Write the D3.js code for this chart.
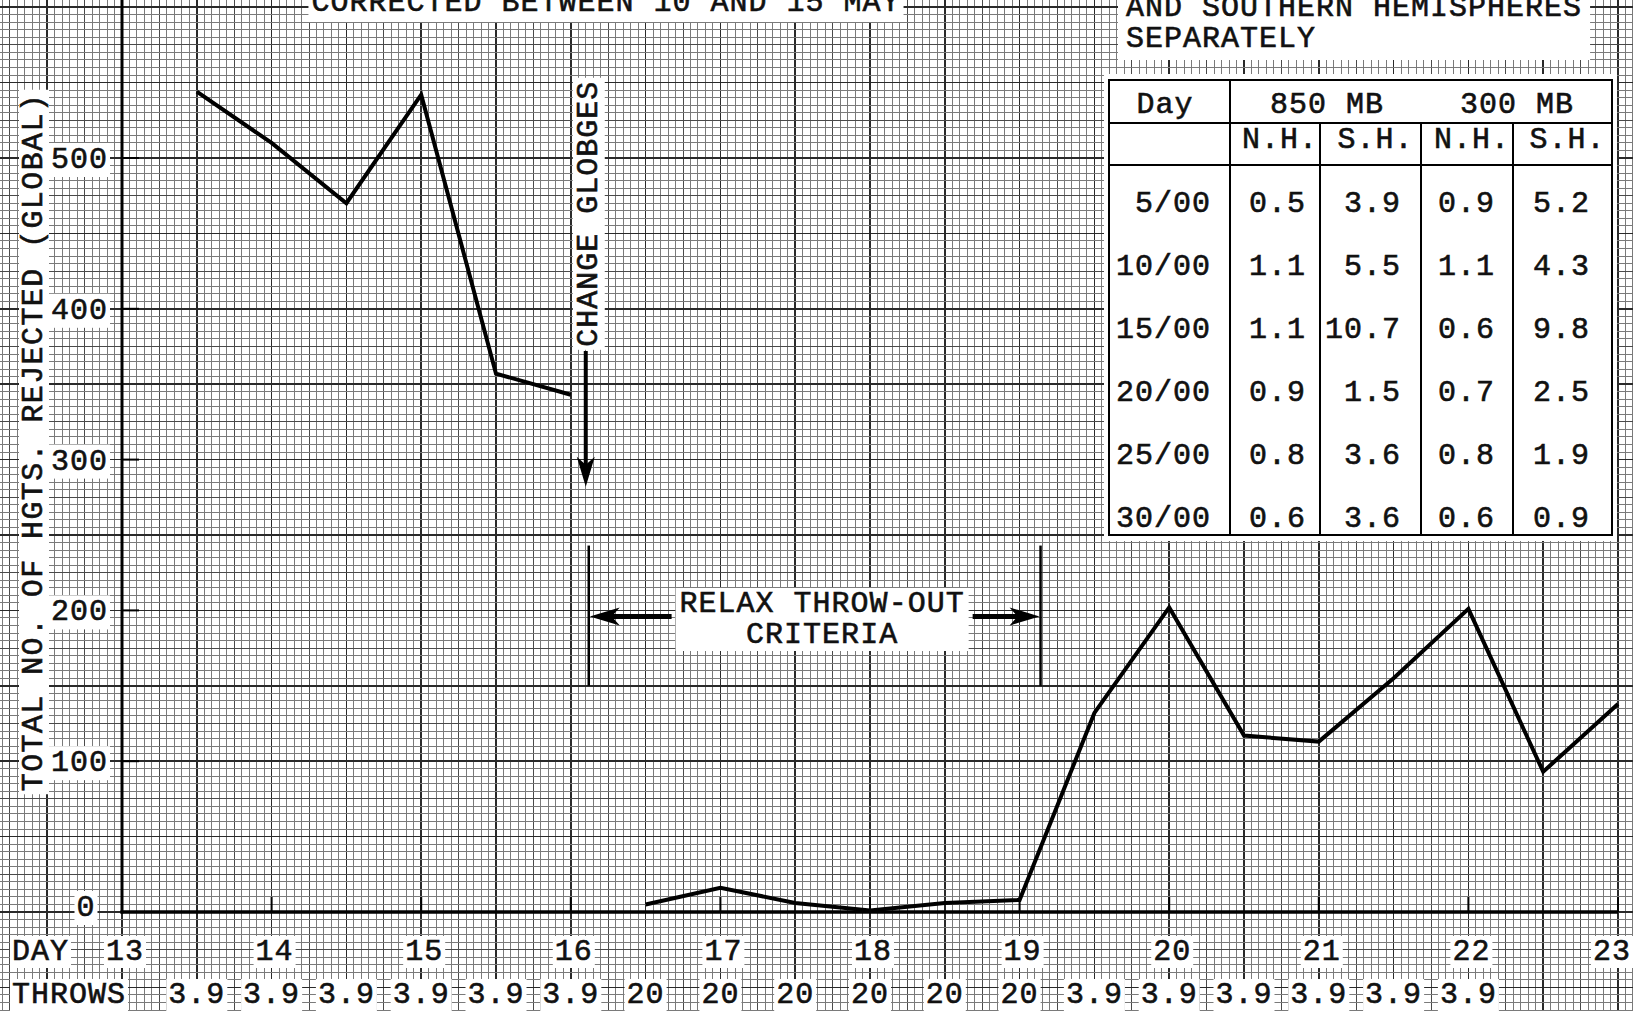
<!DOCTYPE html>
<html>
<head>
<meta charset="utf-8">
<script src="https://cdn.jsdelivr.net/npm/d3@7"></script>
<style>
    body { margin: 0; background: white; }
</style>
</head>
<body>
<div id="canvas"></div>
<script>
"use strict"

/* Drawing size */
let svgWidth = 1633;
let svgHeight = 1011;
let fontFamily = "'Liberation Mono', 'DejaVu Sans Mono', monospace";

let dayTicks = [13, 14, 15, 16, 17, 18, 19, 20, 21, 22, 23];
let yTicks = [0, 100, 200, 300, 400, 500];

// first run of the curve (before the globges change)
let earlyDays = [13.5, 14, 14.5, 15, 15.5, 16];
let earlyRejected = [544, 510, 470, 542, 357, 343];

// second run of the curve
let lateDays = [16.5, 17, 17.5, 18, 18.5, 19, 19.5, 20, 20.5, 21, 21.5, 22, 22.5, 23];
let lateRejected = [5, 16, 6, 1, 6, 8, 132, 202, 117, 113, 155, 201, 93, 138];

// throw-out criteria used for each half day
let throwDays = [13.5, 14, 14.5, 15, 15.5, 16, 16.5, 17, 17.5, 18, 18.5, 19, 19.5, 20, 20.5, 21, 21.5, 22];
let throwValues = ["3.9", "3.9", "3.9", "3.9", "3.9", "3.9", "20", "20", "20", "20", "20", "20",
    "3.9", "3.9", "3.9", "3.9", "3.9", "3.9"];

/* Table: northern and southern hemispheres separately */
let tableDays = ["5/00", "10/00", "15/00", "20/00", "25/00", "30/00"];
let nh850 = ["0.5", "1.1", "1.1", "0.9", "0.8", "0.6"];
let sh850 = ["3.9", "5.5", "10.7", "1.5", "3.6", "3.6"];
let nh300 = ["0.9", "1.1", "0.6", "0.7", "0.8", "0.6"];
let sh300 = ["5.2", "4.3", "9.8", "2.5", "1.9", "0.9"];

let svg = d3.select("#canvas")
    .append("svg")
    .attr("width", svgWidth)
    .attr("height", svgHeight)
    .style("display", "block");

svg.append("rect")
    .attr("width", svgWidth)
    .attr("height", svgHeight)
    .attr("fill", "white");

/* Scales: days on x, number of heights rejected on y */
let xScale = d3.scaleLinear()
    .domain([13, 23])
    .range([122, 1618]);

let yScale = d3.scaleLinear()
    .domain([0, 500])
    .range([912, 158]);

/* graph paper: minor line every 1/20 day and every 5 units, heavy every half day / 50 units */
let grid = svg.append("g").attr("shape-rendering", "crispEdges");

function gridColor(i) {
    if (i % 10 === 0) return "#2a2a2a";
    if (i % 5 === 0) return "#4a4a4a";
    return "#7a7a7a";
}

let xFirst = Math.ceil(xScale.invert(0) / 0.05);
let xLast = Math.floor(xScale.invert(svgWidth) / 0.05);
for (let i = xFirst; i <= xLast; i++) {
    let x = xScale(i * 0.05);
    grid.append("line")
        .attr("x1", x).attr("x2", x)
        .attr("y1", 0).attr("y2", svgHeight)
        .attr("stroke", gridColor(i))
        .attr("stroke-width", i % 10 === 0 ? 1.5 : 1);
}

let yFirst = Math.ceil(yScale.invert(svgHeight) / 5);
let yLast = Math.floor(yScale.invert(0) / 5);
for (let i = yFirst; i <= yLast; i++) {
    let y = yScale(i * 5);
    grid.append("line")
        .attr("x1", 0).attr("x2", svgWidth)
        .attr("y1", y).attr("y2", y)
        .attr("stroke", gridColor(i))
        .attr("stroke-width", i % 10 === 0 ? 1.5 : 1);
}

/* white patch behind a label group, like the pasted-on typed labels */
function whiteBox(group, padX, padY) {
    let b = group.node().getBBox();
    group.insert("rect", ":first-child")
        .attr("x", b.x - padX)
        .attr("y", b.y - padY)
        .attr("width", b.width + 2 * padX)
        .attr("height", b.height + 2 * padY)
        .attr("fill", "white");
}

function typed(parent, x, y, str, anchor) {
    return parent.append("text")
        .attr("x", x)
        .attr("y", y)
        .attr("text-anchor", anchor || "middle")
        .attr("font-family", fontFamily)
        .attr("font-size", 30)
        .attr("letter-spacing", 1)
        .attr("fill", "#111")
        .attr("stroke", "#111")
        .attr("stroke-width", 0.6)
        .text(str);
}

/* axes */
svg.append("line")
    .attr("x1", xScale(13)).attr("x2", xScale(13))
    .attr("y1", 0).attr("y2", yScale(0) + 1.5)
    .attr("stroke", "black").attr("stroke-width", 3);

svg.append("line")
    .attr("x1", xScale(13) - 1.5).attr("x2", xScale(23))
    .attr("y1", yScale(0)).attr("y2", yScale(0))
    .attr("stroke", "black").attr("stroke-width", 3.5);

for (let i = 1; i < dayTicks.length; i++) {
    svg.append("line")
        .attr("x1", xScale(dayTicks[i])).attr("x2", xScale(dayTicks[i]))
        .attr("y1", yScale(0)).attr("y2", yScale(0) - 15)
        .attr("stroke", "black").attr("stroke-width", 2);
}
for (let i = 1; i < yTicks.length; i++) {
    svg.append("line")
        .attr("x1", xScale(13)).attr("x2", xScale(13) + 17)
        .attr("y1", yScale(yTicks[i])).attr("y2", yScale(yTicks[i]))
        .attr("stroke", "black").attr("stroke-width", 2);
}

/* the curve, in two runs */
let line = d3.line()
    .x(function (d) { return xScale(d[0]); })
    .y(function (d) { return yScale(d[1]); });

svg.append("path")
    .attr("d", line(d3.zip(earlyDays, earlyRejected)))
    .attr("fill", "none").attr("stroke", "black")
    .attr("stroke-width", 4).attr("stroke-linejoin", "miter");

svg.append("path")
    .attr("d", line(d3.zip(lateDays, lateRejected)))
    .attr("fill", "none").attr("stroke", "black")
    .attr("stroke-width", 4).attr("stroke-linejoin", "miter");

/* y tick labels */
for (let i = 0; i < yTicks.length; i++) {
    let g = svg.append("g");
    if (yTicks[i] === 0) {
        typed(g, 86, yScale(0) + 4, yTicks[i]);
    } else {
        typed(g, 108, yScale(yTicks[i]) + 10, yTicks[i], "end");
    }
    whiteBox(g, 2, 0);
}

/* y axis title */
let yTitle = svg.append("g").attr("transform", "translate(42,442) rotate(-90)");
typed(yTitle, 0, 0, "TOTAL NO. OF HGTS. REJECTED (GLOBAL)").attr("letter-spacing", 1.4);
whiteBox(yTitle, 3, -2);

/* day row and throws row */
let dayLabel = svg.append("g");
typed(dayLabel, 12, 960, "DAY", "start");
whiteBox(dayLabel, 2, -1);
for (let i = 0; i < dayTicks.length; i++) {
    let g = svg.append("g");
    let x = Math.min(xScale(dayTicks[i]) + 3, svgWidth - 21);
    typed(g, x, 960, dayTicks[i]);
    whiteBox(g, 2, -1);
}

let throwLabel = svg.append("g");
typed(throwLabel, 12, 1003, "THROWS", "start");
whiteBox(throwLabel, 2, -1);
for (let i = 0; i < throwDays.length; i++) {
    let g = svg.append("g");
    typed(g, xScale(throwDays[i]), 1003, throwValues[i]);
    whiteBox(g, 2, -1);
}

/* titles at the top of the page (the sheet is cut there) */
let topTitle = svg.append("g");
typed(topTitle, 606, 11, "CORRECTED BETWEEN 10 AND 15 MAY");
whiteBox(topTitle, 3, 2);

let hemiTitle = svg.append("g");
typed(hemiTitle, 1126, 16, "AND SOUTHERN HEMISPHERES", "start");
typed(hemiTitle, 1126, 47, "SEPARATELY", "start");
whiteBox(hemiTitle, 8, 4);

/* arrow head with barbs, tip at (x, y), pointing along angle (degrees) */
function arrowHead(x, y, angle) {
    svg.append("path")
        .attr("d", "M0,0 L-30,-9 L-22,0 L-30,9 Z")
        .attr("transform", "translate(" + x + "," + y + ") rotate(" + angle + ")")
        .attr("fill", "black");
}

/* CHANGE GLOBGES annotation */
let changeDay = 16.1;
let changeText = svg.append("g")
    .attr("transform", "translate(" + (xScale(changeDay) + 11) + "," + yScale(463) + ") rotate(-90)");
typed(changeText, 0, 0, "CHANGE GLOBGES");
whiteBox(changeText, 3, -1);

svg.append("line")
    .attr("x1", xScale(changeDay)).attr("x2", xScale(changeDay))
    .attr("y1", yScale(372)).attr("y2", yScale(282) - 20)
    .attr("stroke", "black").attr("stroke-width", 4);
arrowHead(xScale(changeDay), yScale(282), 90);

/* RELAX THROW-OUT CRITERIA annotation */
let relaxLeft = 16.12;
let relaxRight = 19.14;
let relaxY = 196;

[relaxLeft, relaxRight].forEach(function (d) {
    svg.append("line")
        .attr("x1", xScale(d)).attr("x2", xScale(d))
        .attr("y1", yScale(243)).attr("y2", yScale(150))
        .attr("stroke", "black").attr("stroke-width", 2.5);
});

let relaxText = svg.append("g");
typed(relaxText, xScale(17.68), 612, "RELAX THROW-OUT");
typed(relaxText, xScale(17.68), 643, "CRITERIA");
whiteBox(relaxText, 4, -1);
let relaxBox = relaxText.node().getBBox();

svg.append("line")
    .attr("x1", relaxBox.x - 4).attr("x2", xScale(relaxLeft) + 20)
    .attr("y1", yScale(relaxY)).attr("y2", yScale(relaxY))
    .attr("stroke", "black").attr("stroke-width", 5);
arrowHead(xScale(relaxLeft) + 1, yScale(relaxY), 180);

svg.append("line")
    .attr("x1", relaxBox.x + relaxBox.width + 4).attr("x2", xScale(relaxRight) - 20)
    .attr("y1", yScale(relaxY)).attr("y2", yScale(relaxY))
    .attr("stroke", "black").attr("stroke-width", 5);
arrowHead(xScale(relaxRight) - 1, yScale(relaxY), 0);

/* table */
let tableLeft = 1109;
let tableRight = 1612;
let tableTop = 80;
let tableBottom = 535;
let headLine = 123;
let subLine = 165;
let colEdges = [1109, 1230, 1320, 1421, 1513, 1612];
let colRight = [1306, 1401, 1495, 1590];

svg.append("rect")
    .attr("x", tableLeft - 5).attr("y", tableTop - 6)
    .attr("width", tableRight - tableLeft + 10).attr("height", tableBottom - tableTop + 12)
    .attr("fill", "white");

svg.append("rect")
    .attr("x", tableLeft).attr("y", tableTop)
    .attr("width", tableRight - tableLeft).attr("height", tableBottom - tableTop)
    .attr("fill", "none").attr("stroke", "black").attr("stroke-width", 2);

[headLine, subLine].forEach(function (y) {
    svg.append("line")
        .attr("x1", tableLeft).attr("x2", tableRight)
        .attr("y1", y).attr("y2", y)
        .attr("stroke", "black").attr("stroke-width", 2);
});

for (let i = 1; i < colEdges.length - 1; i++) {
    svg.append("line")
        .attr("x1", colEdges[i]).attr("x2", colEdges[i])
        .attr("y1", i === 1 ? tableTop : headLine).attr("y2", tableBottom)
        .attr("stroke", "black").attr("stroke-width", 2);
}

typed(svg, 1165, 113, "Day");
typed(svg, 1327, 113, "850 MB");
typed(svg, 1517, 113, "300 MB");
let subHeads = ["N.H.", "S.H.", "N.H.", "S.H."];
for (let i = 0; i < subHeads.length; i++) {
    typed(svg, (colEdges[i + 1] + colEdges[i + 2]) / 2 + 5, 148, subHeads[i]);
}

let tableCols = [nh850, sh850, nh300, sh300];
for (let r = 0; r < tableDays.length; r++) {
    let y = 212 + r * 63;
    typed(svg, 1211, y, tableDays[r], "end");
    for (let c = 0; c < tableCols.length; c++) {
        typed(svg, colRight[c], y, tableCols[c][r], "end");
    }
}
</script>
</body>
</html>
